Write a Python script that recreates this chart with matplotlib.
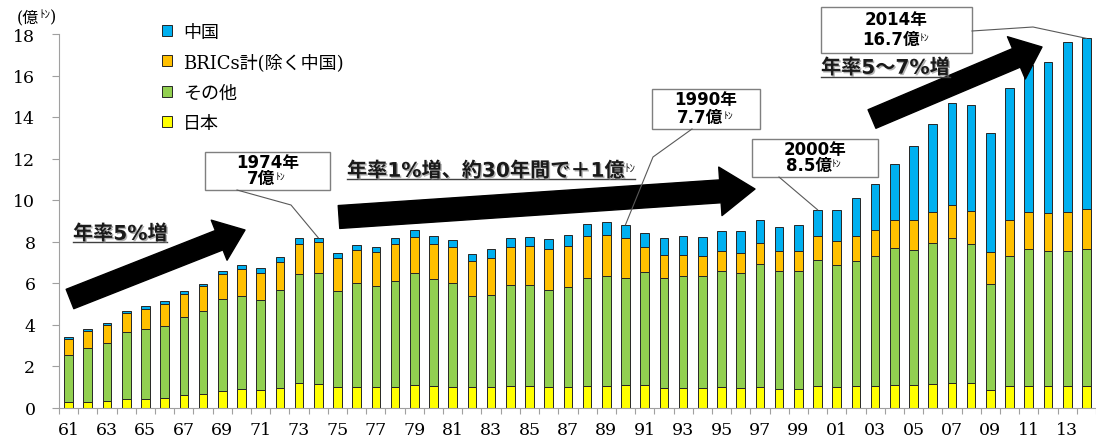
# world crude steel production, stacked by region (1961-2014)
import numpy as np
import matplotlib.pyplot as plt
from matplotlib.patches import Patch, Rectangle, FancyArrowPatch
from matplotlib.lines import Line2D
from matplotlib.text import Annotation
import matplotlib.patheffects as pe

plt.rcParams['font.family'] = ['DejaVu Serif', 'Noto Sans CJK JP']
sans = ['DejaVu Sans', 'Noto Sans CJK JP']

years = np.arange(1961, 2015)
# 億トン
japan = [0.25, 0.25, 0.30, 0.41, 0.41, 0.46, 0.60, 0.65, 0.78, 0.89,
         0.84, 0.92, 1.18, 1.12, 0.97, 1.00, 0.97, 0.97, 1.10, 1.05,
         0.97, 0.97, 0.97, 1.02, 1.02, 0.97, 0.97, 1.05, 1.05, 1.07,
         1.07, 0.94, 0.94, 0.94, 0.97, 0.94, 0.97, 0.91, 0.91, 1.02,
         0.97, 1.02, 1.05, 1.10, 1.10, 1.13, 1.18, 1.18, 0.86, 1.05,
         1.05, 1.02, 1.05, 1.05]
other = [2.30, 2.60, 2.82, 3.21, 3.39, 3.48, 3.74, 4.00, 4.43, 4.50,
         4.36, 4.76, 5.24, 5.35, 4.64, 4.98, 4.87, 5.11, 5.40, 5.13,
         5.01, 4.40, 4.44, 4.87, 4.87, 4.71, 4.85, 5.19, 5.29, 5.17,
         5.45, 5.30, 5.41, 5.41, 5.59, 5.53, 5.96, 5.68, 5.65, 6.09,
         5.90, 6.05, 6.24, 6.60, 6.51, 6.78, 7.00, 6.72, 5.11, 6.27,
         6.59, 6.51, 6.48, 6.59]
brics = [0.75, 0.84, 0.86, 0.92, 0.96, 1.06, 1.12, 1.21, 1.21, 1.28,
         1.30, 1.31, 1.47, 1.49, 1.59, 1.63, 1.67, 1.79, 1.72, 1.71,
         1.74, 1.67, 1.79, 1.83, 1.88, 1.95, 1.95, 2.01, 1.96, 1.91,
         1.20, 1.09, 0.98, 0.94, 1.00, 0.98, 1.00, 0.97, 1.00, 1.14,
         1.14, 1.21, 1.25, 1.32, 1.41, 1.53, 1.59, 1.57, 1.51, 1.70,
         1.80, 1.83, 1.88, 1.93]
china = [0.11, 0.09, 0.09, 0.13, 0.15, 0.15, 0.14, 0.09, 0.14, 0.20,
         0.21, 0.25, 0.26, 0.22, 0.25, 0.20, 0.22, 0.31, 0.32, 0.36,
         0.35, 0.37, 0.43, 0.43, 0.45, 0.48, 0.56, 0.59, 0.63, 0.66,
         0.69, 0.82, 0.92, 0.93, 0.95, 1.04, 1.11, 1.14, 1.24, 1.28,
         1.52, 1.80, 2.25, 2.73, 3.57, 4.21, 4.90, 5.11, 5.76, 6.39,
         7.06, 7.28, 8.19, 8.22]

series_names = ['日本', 'その他', 'BRICs計(除く中国)', '中国']
series_colors = ['#FFFF00', '#92D050', '#FFC000', '#00B0F0']
yticks = [0, 2, 4, 6, 8, 10, 12, 14, 16, 18]
xlabels = [str(y)[2:] for y in years[::2]]

W, H = 1096, 439
def fx(x):
    return x / W
def fy(y):
    return 1 - y / H

fig = plt.figure(figsize=(W / 100, H / 100), dpi=100)
ax = fig.add_axes([fx(59), fy(408.5), fx(1096) - fx(59), (408.5 - 35) / H])

idx = np.arange(len(years))
bottom = np.zeros(len(years))
for vals, name, color in zip([japan, other, brics, china], series_names, series_colors):
    ax.bar(idx, vals, 0.45, bottom=bottom, color=color,
           edgecolor='#262626', linewidth=0.7, label=name)
    bottom += np.array(vals)
total = bottom

ax.set_xlim(-0.5, len(years) - 0.5)
ax.set_ylim(0, 18)
for s in ['top', 'right']:
    ax.spines[s].set_visible(False)
for s in ['left', 'bottom']:
    ax.spines[s].set_color('#a0a0a0')
ax.set_yticks(yticks)
ax.tick_params(axis='y', length=5, color='#a0a0a0', pad=12, labelsize=12.5)
ax.set_xticks(np.arange(-0.5, len(years), 1))
ax.set_xticklabels([])
ax.set_xticks(idx[::2], minor=True)
ax.set_xticklabels(xlabels, minor=True)
ax.tick_params(axis='x', which='major', length=4, color='#a0a0a0')
ax.tick_params(axis='x', which='minor', length=0, pad=10, labelsize=12.5)

# legend (top row is 中国)
handles = [Patch(facecolor=c, edgecolor='#262626', linewidth=0.7) for c in series_colors[::-1]]
fig.legend(handles, series_names[::-1], loc='upper left', bbox_to_anchor=(fx(162), fy(24)),
           frameon=False, fontsize=13, handlelength=0.55, handleheight=0.55,
           handletextpad=0.6, labelspacing=0.68, borderpad=0, borderaxespad=0)

def small(text, anchor, y=0.62, size=7, xyc=None, **kw):
    # half-width ﾄﾝ written small and raised after a text
    a = Annotation(text, xy=(1, y), xycoords=xyc if xyc else anchor, fontsize=size,
                   va='center', ha='left', **kw)
    fig.add_artist(a)
    return a

# unit label
t = fig.text(fx(17), fy(18), '(億', fontsize=11.5, va='center', ha='left')
s = small('ﾄﾝ', t, y=0.68, size=8)
small(')', None, y=0.5, size=11.5, xyc=(s, t))

def to_fig(i, v):
    p = ax.transData.transform((i, v))
    return fig.transFigure.inverted().transform(p)

def callout(x0, y0, x1, y1, line1, line2, bend, year):
    fig.add_artist(Rectangle((fx(x0), fy(y1)), fx(x1) - fx(x0), fy(y0) - fy(y1),
                             transform=fig.transFigure, facecolor='white',
                             edgecolor='#7f7f7f', linewidth=1))
    cx = (x0 + x1) / 2
    h = y1 - y0
    fig.text(fx(cx), fy(y0 + h * 0.26), line1, ha='center', va='center', fontsize=12,
             fontweight='bold', family=sans)
    m = fig.text(fx(cx - 6), fy(y0 + h * 0.69), line2, ha='center', va='center', fontsize=12,
                 fontweight='bold', family=sans)
    small('ﾄﾝ', m, family=sans)
    i = year - years[0]
    end = to_fig(i, total[i])
    xs = [fx(p[0]) for p in bend] + [end[0]]
    ys = [fy(p[1]) for p in bend] + [end[1]]
    fig.add_artist(Line2D(xs, ys, transform=fig.transFigure, color='#595959', lw=0.8))

callout(205, 153, 330, 191, '1974年', '7億', [(237, 191), (291, 206)], 1974)
callout(652, 90, 760, 130, '1990年', '7.7億', [(692, 130), (653, 158)], 1990)
callout(752, 140, 878, 178, '2000年', '8.5億', [(779, 178)], 2000)
callout(821, 8, 972, 54, '2014年', '16.7億', [(972, 32), (1033, 28)], 2014)

def arrow(tail, tip, tw, hw, hl):
    fig.add_artist(FancyArrowPatch((fx(tail[0]), fy(tail[1])), (fx(tip[0]), fy(tip[1])),
                                   transform=fig.transFigure,
                                   arrowstyle=f'simple,head_length={hl},head_width={hw},tail_width={tw}',
                                   color='black', shrinkA=0, shrinkB=0))

arrow((70, 300), (245, 231), 15, 31, 20)
arrow((339, 218), (755, 190), 16.5, 35, 25)
arrow((872, 120), (1042, 48), 14.5, 33, 20)

shadow = [pe.withSimplePatchShadow(offset=(1, -1), shadow_rgbFace='#808080', alpha=0.6)]
labels = []
def label(x, y, text, uy, tail=False):
    lt = fig.text(fx(x), fy(y), text, ha='left', va='center', fontsize=14.5, fontweight='bold',
                  family=sans, color='#1a1a1a', path_effects=shadow)
    last = lt
    if tail:
        last = small('ﾄﾝ', lt, y=0.68, size=8, family=sans, color='#1a1a1a')
    labels.append((lt, last, uy))

label(73, 235, '年率5%増', 243)
label(347, 172, '年率1%増、約30年間で＋1億', 180, tail=True)
label(821, 69, '年率5～7%増', 78)

# underlines
fig.canvas.draw()
r = fig.canvas.get_renderer()
for lt, last, uy in labels:
    a = lt.get_window_extent(r).x0 / fig.bbox.width
    b = last.get_window_extent(r).x1 / fig.bbox.width
    fig.add_artist(Line2D([a, b], [fy(uy), fy(uy)], transform=fig.transFigure,
                          color='#404040', lw=1))

fig.savefig('out.png', dpi=100)
